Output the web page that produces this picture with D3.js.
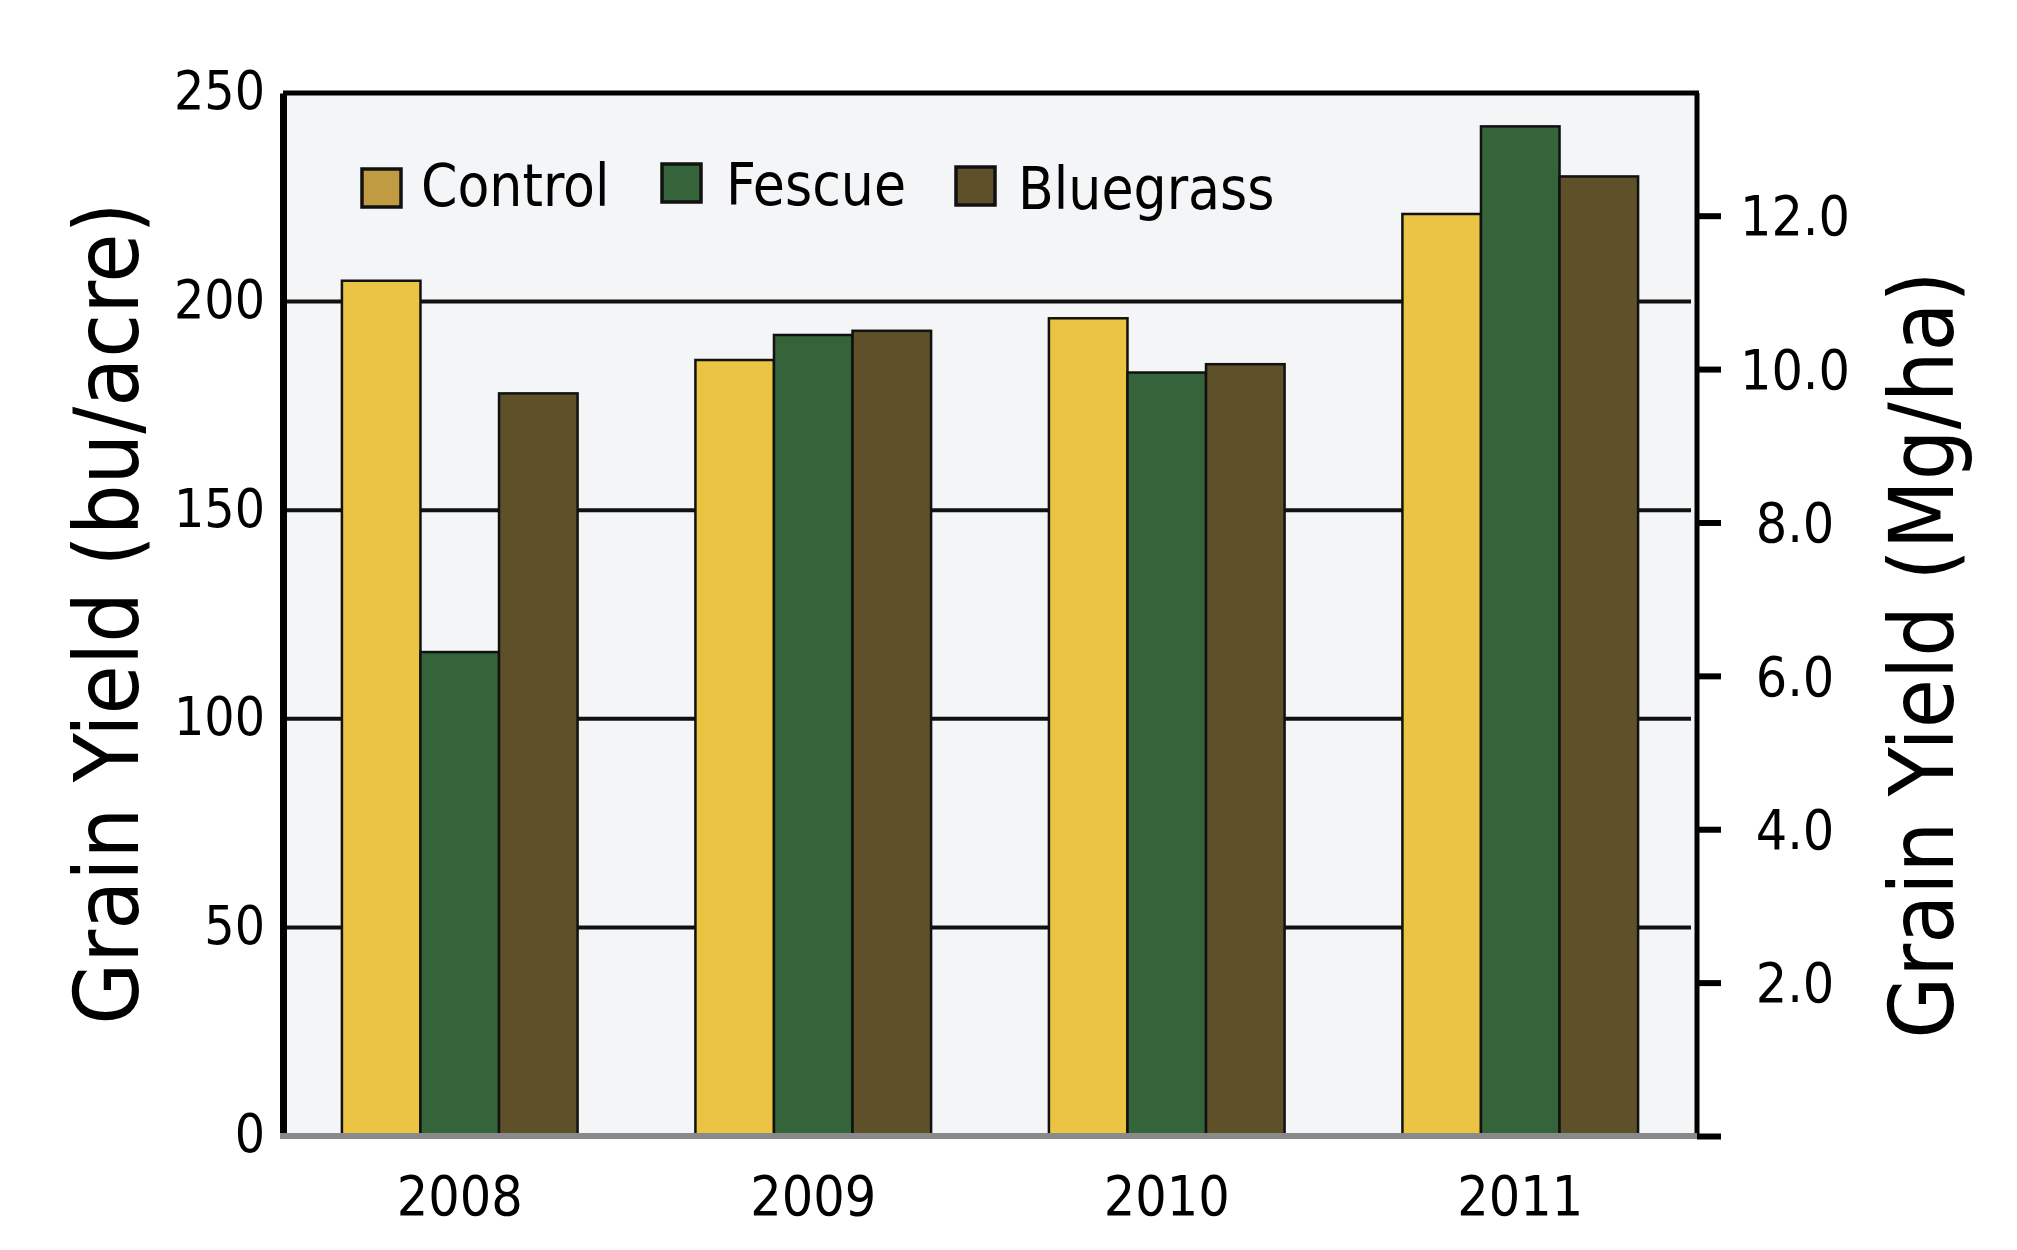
<!DOCTYPE html>
<html>
<head>
<meta charset="utf-8">
<script src="https://cdn.jsdelivr.net/npm/d3@7"></script>
<style>
  html, body { margin: 0; padding: 0; background: #ffffff; }
  svg { display: block; }
  text { font-family: "DejaVu Sans Condensed", "DejaVu Sans", sans-serif; font-stretch: condensed; fill: #000; }
</style>
</head>
<body>
<svg id="chart" width="2017" height="1250"></svg>
<script>
// ---- data ----
const years = ["2008", "2009", "2010", "2011"];
const seriesNames = ["Control", "Fescue", "Bluegrass"];
const controlValues = [205, 186, 196, 221];
const fescueValues = [116, 192, 183, 242];
const bluegrassValues = [178, 193, 185, 230];
const leftTicks = [0, 50, 100, 150, 200, 250];
const rightTicks = [2, 4, 6, 8, 10, 12];
const leftMax = 250;
const rightMax = 13.6;   // Mg/ha at top of plot
const leftTitle = "Grain Yield (bu/acre)";
const rightTitle = "Grain Yield (Mg/ha)";

// ---- styles ----
const barColors = ["#ebc443", "#36643a", "#5e5029"];
const legendColors = ["#c09b42", "#36643a", "#5e5029"];

const seriesValues = [controlValues, fescueValues, bluegrassValues];
const rows = years.map((yr, i) => ({
  year: yr,
  values: seriesNames.map((s, j) => ({ key: s, value: seriesValues[j][i], idx: j }))
}));

const svg = d3.select("#chart");
const L = 283, R = 1697, T = 93, B = 1136;

const x0 = d3.scaleBand().domain(years).range([L, R]).paddingInner(1 / 3).paddingOuter(1 / 6);
const x1 = d3.scaleBand().domain(seriesNames).range([0, x0.bandwidth()]).padding(0);
const y = d3.scaleLinear().domain([0, leftMax]).range([B, T]);
const yR = d3.scaleLinear().domain([0, rightMax]).range([B, T]);

// plot background
svg.append("rect").attr("x", L).attr("y", T).attr("width", R - L).attr("height", B - T)
  .attr("fill", "#f4f5f7");

// gridlines
svg.append("g").selectAll("line").data(leftTicks.filter(d => d > 0 && d < leftMax)).join("line")
  .attr("x1", L).attr("x2", R - 6)
  .attr("y1", d => y(d)).attr("y2", d => y(d))
  .attr("stroke", "#111").attr("stroke-width", 4);

// bars
const groups = svg.append("g").selectAll("g").data(rows).join("g")
  .attr("transform", d => `translate(${x0(d.year)},0)`);
groups.selectAll("rect").data(d => d.values).join("rect")
  .attr("x", d => x1(d.key))
  .attr("y", d => y(d.value))
  .attr("width", x1.bandwidth())
  .attr("height", d => B - y(d.value))
  .attr("fill", d => barColors[d.idx])
  .attr("stroke", "#111")
  .attr("stroke-width", 2.5);

// frame: top and right borders
svg.append("line").attr("x1", L).attr("x2", R + 2).attr("y1", T).attr("y2", T)
  .attr("stroke", "#000").attr("stroke-width", 5);
svg.append("line").attr("x1", R).attr("x2", R).attr("y1", T).attr("y2", B)
  .attr("stroke", "#000").attr("stroke-width", 5);

// left axis
const leftAxis = d3.axisLeft(y).tickValues(leftTicks).tickSize(0).tickPadding(18)
  .tickFormat(d3.format("d"));
const gl = svg.append("g").attr("transform", `translate(${L},0)`).call(leftAxis);
gl.select(".domain").attr("stroke", "#000").attr("stroke-width", 7);
gl.selectAll("text").attr("font-size", 53).attr("font-family", null).attr("dy", "0.3em");

// bottom axis line (gray)
svg.append("line").attr("x1", L - 3).attr("x2", R).attr("y1", B).attr("y2", B)
  .attr("stroke", "#8a8a8a").attr("stroke-width", 6);

// x labels
const bottomAxis = d3.axisBottom(x0).tickSize(0).tickPadding(40);
const gb = svg.append("g").attr("transform", `translate(0,${B})`).call(bottomAxis);
gb.select(".domain").remove();
gb.selectAll("text").attr("font-size", 55).attr("font-family", null);

// right axis
const rightAxis = d3.axisRight(yR).tickValues([0].concat(rightTicks)).tickSize(24).tickPadding(0)
  .tickFormat(d => d === 0 ? "" : d3.format(".1f")(d));
const gr = svg.append("g").attr("transform", `translate(${R},0)`).call(rightAxis);
gr.select(".domain").remove();
gr.selectAll(".tick line").attr("stroke", "#000").attr("stroke-width", 6);
gr.selectAll("text").attr("font-size", 55).attr("font-family", null)
  .attr("x", 98).attr("text-anchor", "middle").attr("dy", "0.35em");

// axis titles
svg.append("text").attr("transform", `translate(138,${(203 + 1024) / 2}) rotate(-90)`)
  .attr("text-anchor", "middle").attr("font-size", 89).text(leftTitle);
svg.append("text").attr("transform", `translate(1953,${(263 + 1047) / 2}) rotate(-90)`)
  .attr("text-anchor", "middle").attr("font-size", 89).text(rightTitle);

// legend
const legendX = [362, 662, 956];
const legendSwatchY = [169, 164, 167];
const legendTextX = [421, 726, 1018];
const legendBase = [206, 205, 209];
const lg = svg.append("g").selectAll("g").data(seriesNames).join("g");
lg.append("rect")
  .attr("x", (d, i) => legendX[i]).attr("y", (d, i) => legendSwatchY[i])
  .attr("width", 39).attr("height", 38)
  .attr("fill", (d, i) => legendColors[i]).attr("stroke", "#111").attr("stroke-width", 3.5);
lg.append("text")
  .attr("x", (d, i) => legendTextX[i]).attr("y", (d, i) => legendBase[i])
  .attr("font-size", 58).text(d => d);
</script>
</body>
</html>
